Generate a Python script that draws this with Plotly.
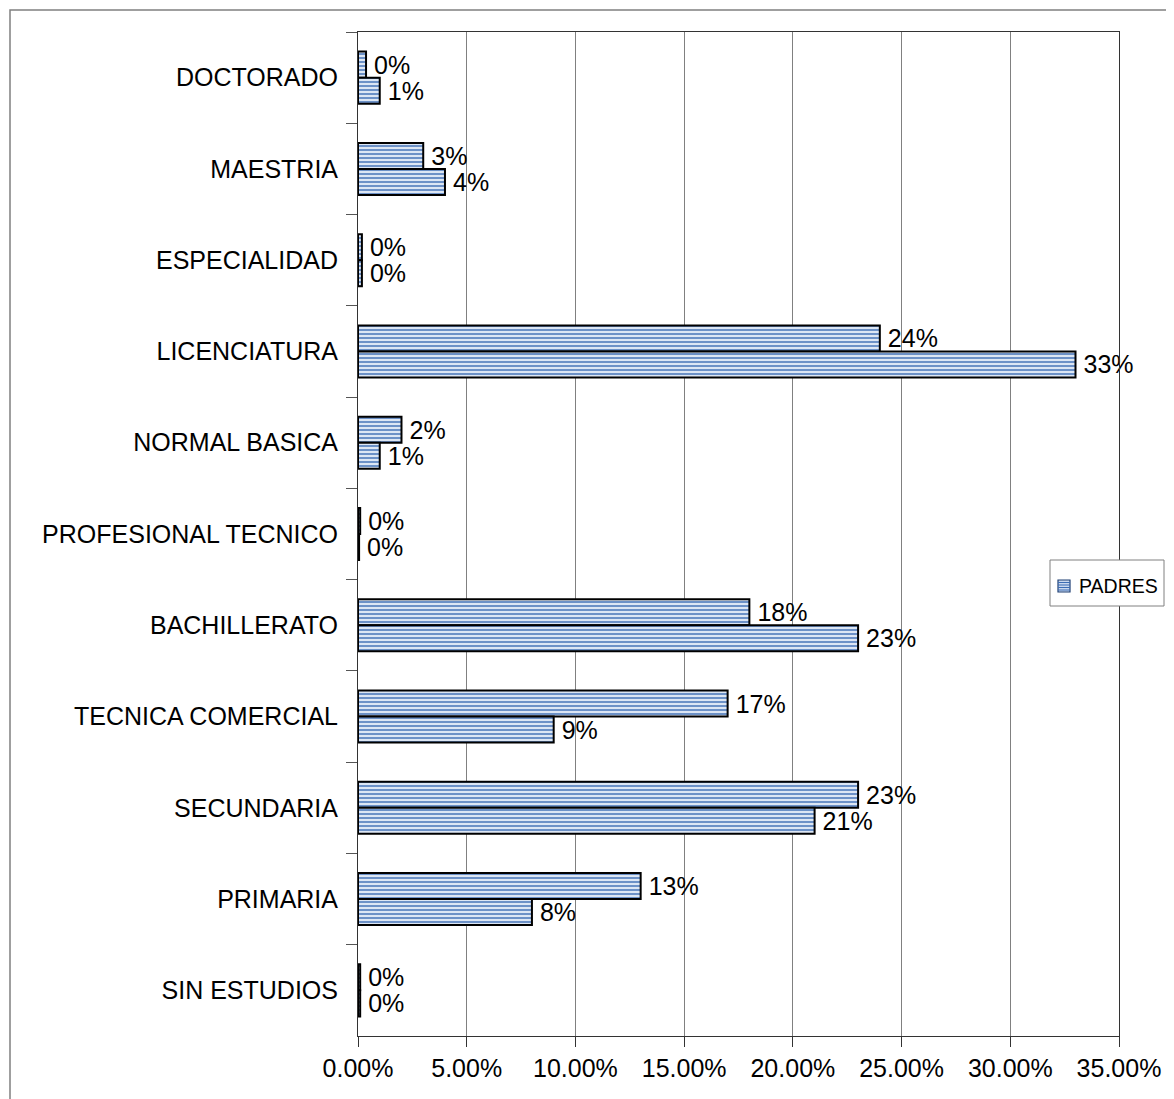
import plotly.graph_objects as go

categories = ["DOCTORADO", "MAESTRIA", "ESPECIALIDAD", "LICENCIATURA", "NORMAL BASICA",
              "PROFESIONAL TECNICO", "BACHILLERATO", "TECNICA COMERCIAL", "SECUNDARIA",
              "PRIMARIA", "SIN ESTUDIOS"]
serie_a = [0.0037, 0.030, 0.0018, 0.240, 0.020, 0.0010, 0.180, 0.170, 0.230, 0.130, 0.0010]
serie_b = [0.010, 0.040, 0.0018, 0.330, 0.010, 0.0005, 0.230, 0.090, 0.210, 0.080, 0.0010]
x_ticks = [0, 0.05, 0.10, 0.15, 0.20, 0.25, 0.30, 0.35]
x_labels = ["0.00%", "5.00%", "10.00%", "15.00%", "20.00%", "25.00%", "30.00%", "35.00%"]
legend_label = "PADRES"

FONT = "Liberation Sans, Arial, sans-serif"
OFF = 8  # page body margin
W, H = 1174 - OFF, 1099 - OFF
L, R, T, B = 358 - OFF, 1119 - OFF, 32 - OFF, 1036 - OFF
PW, PH = R - L, B - T


def px(X):
    return (X - OFF - L) / PW


def py(Y):
    return (B - (Y - OFF)) / PH


def bar(vals, name):
    return go.Bar(
        y=categories, x=vals, orientation="h", name=name, showlegend=False,
        marker=dict(
            color="#dce6f4",
            line=dict(color="#000000", width=2),
            pattern=dict(shape="-", fgcolor="#3c6db4", bgcolor="#dce6f4",
                         size=4, solidity=0.35, fillmode="replace"),
        ),
        texttemplate="\u2009%{x:.0%}", textposition="outside", cliponaxis=False,
        constraintext="none",
        textfont=dict(family=FONT, size=25, color="#000000"),
    )


fig = go.Figure([bar(serie_a, "PADRES"), bar(serie_b, "MADRES")])

shapes = [
    # outer chart border
    dict(type="rect", xref="paper", yref="paper",
         x0=px(10), x1=px(1200), y0=py(1120), y1=py(10),
         line=dict(color="#808080", width=1.5), layer="below"),
    # legend box
    dict(type="rect", xref="paper", yref="paper",
         x0=px(1050), x1=px(1164), y0=py(606), y1=py(560),
         line=dict(color="#808080", width=1), fillcolor="white", layer="above"),
    # legend symbol
    dict(type="rect", xref="paper", yref="paper",
         x0=px(1058), x1=px(1070), y0=py(592), y1=py(580),
         line=dict(color="#1f3f73", width=1.2), fillcolor="#c9d8ef", layer="above"),
]
for yy in (582.5, 585, 587.5, 590):
    shapes.append(dict(type="line", xref="paper", yref="paper",
                       x0=px(1058), x1=px(1070), y0=py(yy), y1=py(yy),
                       line=dict(color="#3c6db4", width=1), layer="above"))

fig.update_layout(
    width=W, height=H,
    margin=dict(l=L, r=W - R, t=T, b=H - B, pad=0, autoexpand=False),
    paper_bgcolor="white", plot_bgcolor="white",
    barmode="group", bargap=0.43, bargroupgap=0,
    font=dict(family=FONT, size=25, color="#000000"),
    showlegend=False,
    xaxis=dict(range=[0, 0.35], tickvals=x_ticks, ticktext=x_labels, automargin=False,
               showgrid=True, gridcolor="#808080", gridwidth=1,
               showline=True, linecolor="#333333", linewidth=1, mirror=True,
               ticks="outside", ticklen=10, tickcolor="#333333",
               zeroline=False, tickfont=dict(size=25)),
    yaxis=dict(categoryorder="array", categoryarray=categories, automargin=False,
               autorange="reversed", tickson="boundaries",
               showgrid=False, showline=True, linecolor="#333333", linewidth=1,
               mirror=True, ticks="outside", ticklen=11, tickcolor="#555555",
               ticklabelstandoff=14, tickfont=dict(size=25)),
    shapes=shapes,
    annotations=[dict(text=legend_label, xref="paper", yref="paper",
                      x=px(1077), y=py(586), xanchor="left", yanchor="middle",
                      showarrow=False, font=dict(family=FONT, size=19.5, color="#000000"))],
)

fig.write_html("out.html")
